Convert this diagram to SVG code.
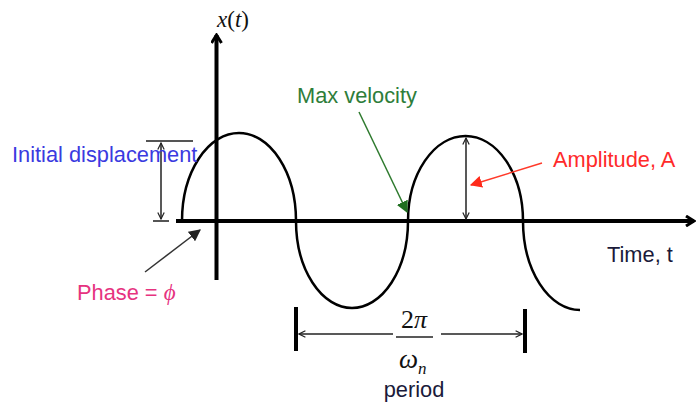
<svg xmlns="http://www.w3.org/2000/svg" width="696" height="410" viewBox="0 0 696 410">
<style>
  .sans { font-family: "Liberation Sans", Arial, sans-serif; font-size: 21.8px; }
  .serif { font-family: "Liberation Serif", "Times New Roman", serif; }
  .axis { stroke: #000; stroke-width: 4; fill: none; }
  .thin { stroke: #222; stroke-width: 1.5; fill: none; }
  .tick { stroke: #555; stroke-width: 2; fill: none; }
  .bar { stroke: #000; stroke-width: 4; fill: none; }
</style>
<defs>
  <marker id="axhead" viewBox="0 0 12 12" refX="10" refY="6" markerWidth="12" markerHeight="12" markerUnits="userSpaceOnUse" orient="auto">
    <path d="M2,1 L10,6 L2,11" fill="none" stroke="#000" stroke-width="3"/>
  </marker>
  <marker id="open" viewBox="0 0 10 10" refX="9" refY="5" markerWidth="8" markerHeight="8" markerUnits="userSpaceOnUse" orient="auto-start-reverse">
    <path d="M1,1 L9,5 L1,9" fill="none" stroke="#222" stroke-width="1.5"/>
  </marker>
  <marker id="fillDark" viewBox="0 0 10 10" refX="9" refY="5" markerWidth="12" markerHeight="12" markerUnits="userSpaceOnUse" orient="auto">
    <path d="M0,0 L10,5 L0,10 Z" fill="#222"/>
  </marker>
  <marker id="fillGreen" viewBox="0 0 10 10" refX="9" refY="5" markerWidth="12" markerHeight="12" markerUnits="userSpaceOnUse" orient="auto">
    <path d="M0,0 L10,5 L0,10 Z" fill="#1f6e1f"/>
  </marker>
  <marker id="fillRed" viewBox="0 0 10 10" refX="9" refY="5" markerWidth="12" markerHeight="12" markerUnits="userSpaceOnUse" orient="auto">
    <path d="M0,0 L10,5 L0,10 Z" fill="#ff2a1a"/>
  </marker>
</defs>
<rect width="696" height="410" fill="#fff"/>

<g id="axes">
  <line class="axis" x1="216.5" y1="280" x2="216.5" y2="35" marker-end="url(#axhead)"/>
  <line class="axis" x1="176" y1="221" x2="694" y2="221" marker-end="url(#axhead)"/>
  <text class="serif" x="217" y="27" font-size="23" fill="#111"><tspan font-style="italic">x</tspan>(<tspan font-style="italic">t</tspan>)</text>
  <text class="sans" x="607" y="262" fill="#1a1a3a">Time, t</text>
</g>

<g id="wave">
  <path d="M182,221 A57,88 0 0 1 296,221 A56,87 0 0 0 408,221 A57.5,85 0 0 1 523,221 A57,89 0 0 0 580,310" fill="none" stroke="#000" stroke-width="2.5"/>
</g>

<g id="connectors">
  <line class="tick" x1="146" y1="141" x2="193" y2="141"/>
  <line class="tick" x1="153" y1="221" x2="169" y2="221"/>
  <line class="thin" x1="161" y1="143" x2="161" y2="219" marker-start="url(#open)" marker-end="url(#open)"/>
  <line class="thin" x1="466" y1="138" x2="466" y2="219" marker-start="url(#open)" marker-end="url(#open)"/>
  <line x1="145" y1="272" x2="200" y2="230" stroke="#333" stroke-width="1.5" marker-end="url(#fillDark)"/>
  <line x1="359" y1="112" x2="407" y2="212" stroke="#2e7a2e" stroke-width="1.5" marker-end="url(#fillGreen)"/>
  <line x1="542" y1="163" x2="471" y2="185" stroke="#ff3a2a" stroke-width="1.5" marker-end="url(#fillRed)"/>
  <line class="bar" x1="296" y1="307" x2="296" y2="351"/>
  <line class="bar" x1="525" y1="309" x2="525" y2="353"/>
  <line class="thin" x1="299" y1="334" x2="393" y2="334" marker-start="url(#open)"/>
  <line class="thin" x1="441" y1="334" x2="522" y2="334" marker-end="url(#open)"/>
</g>

<g id="label-initial">
  <text class="sans" x="12" y="162" fill="#3a3ae0">Initial displacement</text>
</g>
<g id="label-velocity">
  <text class="sans" x="297" y="103" fill="#2e7d3a">Max velocity</text>
</g>
<g id="label-amplitude">
  <text class="sans" x="553" y="167" fill="#ff2a2a">Amplitude, A</text>
</g>
<g id="label-phase">
  <text class="sans" x="77" y="300" fill="#e6337f">Phase = <tspan class="serif" font-style="italic" font-size="23">ϕ</tspan></text>
</g>
<g id="label-period">
  <text class="serif" x="414" y="328" font-size="26" text-anchor="middle" fill="#111">2<tspan font-style="italic">π</tspan></text>
  <line x1="396" y1="337" x2="433" y2="337" stroke="#222" stroke-width="1.3"/>
  <text class="serif" x="399" y="368" font-size="27" font-style="italic" fill="#111">ω<tspan font-size="17" dy="6">n</tspan></text>
  <text class="sans" x="414" y="397" text-anchor="middle" fill="#1a1a3a">period</text>
</g>
</svg>
